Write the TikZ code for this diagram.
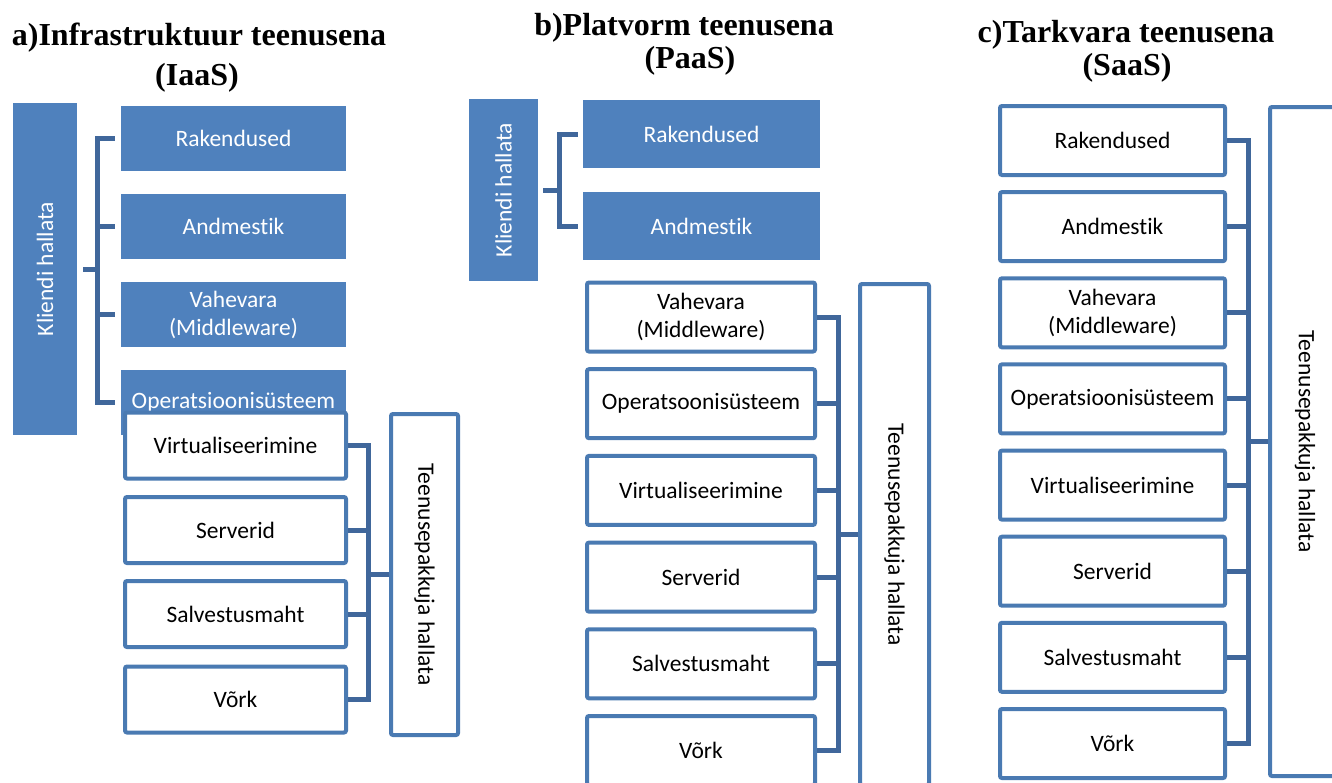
\documentclass[tikz,border=0pt]{standalone}
\usepackage{fontspec}
\setmainfont{Liberation Serif}
\newfontfamily\boxfont[Ligatures=NoCommon]{Carlito}
\definecolor{accfill}{HTML}{4F81BD}
\definecolor{accline}{HTML}{4A7AB2}
\definecolor{brkcol}{HTML}{40679B}
\tikzset{
  basefont/.style={font=\boxfont\fontsize{23.5}{28}\selectfont},
  bluebox/.style={basefont, fill=accfill, text=white, inner sep=0pt, align=center},
  whitebox/.style={basefont, draw=accline, line width=4pt, fill=white, rounded corners=2pt, text=black, inner sep=0pt, align=center},
  brk/.style={draw=brkcol, line width=5pt, line join=miter},
  ttl/.style={font=\bfseries\fontsize{32}{38}\selectfont, anchor=base, inner sep=0pt}
}
\begin{document}
\begin{tikzpicture}[x=1pt,y=-1pt]
\clip (0,0) rectangle (1332,782);
\fill[white] (0,0) rectangle (1332,782);

% ---------- titles ----------
\node[ttl] (tA1) at (199,45) {a)Infrastruktuur teenusena};
\node[ttl] (tA2) at (197,85) {(IaaS)};
\node[ttl] (tB1) at (684,35) {b)Platvorm teenusena};
\node[ttl] (tB2) at (690,68) {(PaaS)};
\node[ttl] (tC1) at (1126,42) {c)Tarkvara teenusena};
\node[ttl] (tC2) at (1127,75) {(SaaS)};

% ---------- panel a ----------
\node[bluebox, rotate=90, minimum width=332pt, minimum height=64pt] (kA) at (45,269) {Kliendi hallata};
\node[bluebox, minimum width=225pt, minimum height=65pt] (rA) at (233.5,138.5) {Rakendused};
\node[bluebox, minimum width=225pt, minimum height=65pt] (aA) at (233.5,226.5) {Andmestik};
\node[bluebox, minimum width=225pt, minimum height=65pt] (vA) at (233.5,314.5) {Vahevara\\(Middleware)};
\node[bluebox, minimum width=225pt, minimum height=65pt] (oA) at (233.5,402.5) {Operatsioonisüsteem};
\node[whitebox, minimum width=221pt, minimum height=66pt] (viA) at (235.5,445.5) {Virtualiseerimine};
\node[whitebox, minimum width=221pt, minimum height=66pt] (sA) at (235.5,530) {Serverid};
\node[whitebox, minimum width=221pt, minimum height=66pt] (saA) at (235.5,614) {Salvestusmaht};
\node[whitebox, minimum width=221pt, minimum height=66pt] (voA) at (235.5,699.5) {Võrk};
\node[whitebox, rotate=-90, minimum width=321pt, minimum height=67pt] (tpA) at (424.5,574.5) {Teenusepakkuja hallata};

\coordinate (bLA) at (97,0);
\coordinate (bRA) at (368,0);
\draw[brk] ([xshift=-6pt]rA.west) -| (bLA |- oA.west) -- ([xshift=-6pt]oA.west);
\draw[brk] ([xshift=-6pt]aA.west) -- (bLA |- aA.west);
\draw[brk] ([xshift=-6pt]vA.west) -- (bLA |- vA.west);
\draw[brk] ([xshift=6pt]kA.south) -- (bLA |- kA.center);
\draw[brk] (viA.east) -| (bRA |- voA.east) -- (voA.east);
\draw[brk] (sA.east) -- (bRA |- sA.east);
\draw[brk] (saA.east) -- (bRA |- saA.east);
\draw[brk] (bRA |- tpA.center) -- (tpA.south);

% ---------- panel b ----------
\node[bluebox, rotate=90, minimum width=182pt, minimum height=69pt] (kB) at (503.5,190) {Kliendi hallata};
\node[bluebox, minimum width=237pt, minimum height=68pt] (rB) at (701.5,134) {Rakendused};
\node[bluebox, minimum width=237pt, minimum height=68pt] (aB) at (701.5,226) {Andmestik};
\node[whitebox, minimum width=228pt, minimum height=69pt] (vB) at (701,317) {Vahevara\\(Middleware)};
\node[whitebox, minimum width=228pt, minimum height=69pt] (oB) at (701,403.7) {Operatsoonisüsteem};
\node[whitebox, minimum width=228pt, minimum height=69pt] (viB) at (701,490.4) {Virtualiseerimine};
\node[whitebox, minimum width=228pt, minimum height=69pt] (sB) at (701,577.1) {Serverid};
\node[whitebox, minimum width=228pt, minimum height=69pt] (saB) at (701,663.8) {Salvestusmaht};
\node[whitebox, minimum width=228pt, minimum height=69pt] (voB) at (701,750.5) {Võrk};
\node[whitebox, rotate=-90, minimum width=501pt, minimum height=69pt] (tpB) at (894.5,534.5) {Teenusepakkuja hallata};

\coordinate (bLB) at (559,0);
\coordinate (bRB) at (838,0);
\draw[brk] ([xshift=-5pt]rB.west) -| (bLB |- aB.west) -- ([xshift=-5pt]aB.west);
\draw[brk] ([xshift=5pt]kB.south) -- (bLB |- kB.center);
\draw[brk] (vB.east) -| (bRB |- voB.east) -- (voB.east);
\draw[brk] (oB.east) -- (bRB |- oB.east);
\draw[brk] (viB.east) -- (bRB |- viB.east);
\draw[brk] (sB.east) -- (bRB |- sB.east);
\draw[brk] (saB.east) -- (bRB |- saB.east);
\draw[brk] (bRB |- tpB.center) -- (tpB.south);

% ---------- panel c ----------
\node[whitebox, minimum width=225pt, minimum height=69pt] (rC) at (1112.5,140.5) {Rakendused};
\node[whitebox, minimum width=225pt, minimum height=69pt] (aC) at (1112.5,226.6) {Andmestik};
\node[whitebox, minimum width=225pt, minimum height=69pt] (vC) at (1112.5,312.8) {Vahevara\\(Middleware)};
\node[whitebox, minimum width=225pt, minimum height=69pt] (oC) at (1112.5,398.9) {Operatsioonisüsteem};
\node[whitebox, minimum width=225pt, minimum height=69pt] (viC) at (1112.5,485.1) {Virtualiseerimine};
\node[whitebox, minimum width=225pt, minimum height=69pt] (sC) at (1112.5,571.2) {Serverid};
\node[whitebox, minimum width=225pt, minimum height=69pt] (saC) at (1112.5,657.3) {Salvestusmaht};
\node[whitebox, minimum width=225pt, minimum height=69pt] (voC) at (1112.5,743.5) {Võrk};
\node[whitebox, rotate=-90, minimum width=669pt, minimum height=70pt] (tpC) at (1305,441.5) {Teenusepakkuja hallata};

\coordinate (bRC) at (1248,0);
\draw[brk] (rC.east) -| (bRC |- voC.east) -- (voC.east);
\draw[brk] (aC.east) -- (bRC |- aC.east);
\draw[brk] (vC.east) -- (bRC |- vC.east);
\draw[brk] (oC.east) -- (bRC |- oC.east);
\draw[brk] (viC.east) -- (bRC |- viC.east);
\draw[brk] (sC.east) -- (bRC |- sC.east);
\draw[brk] (saC.east) -- (bRC |- saC.east);
\draw[brk] (bRC |- tpC.center) -- (tpC.south);
\end{tikzpicture}
\end{document}
